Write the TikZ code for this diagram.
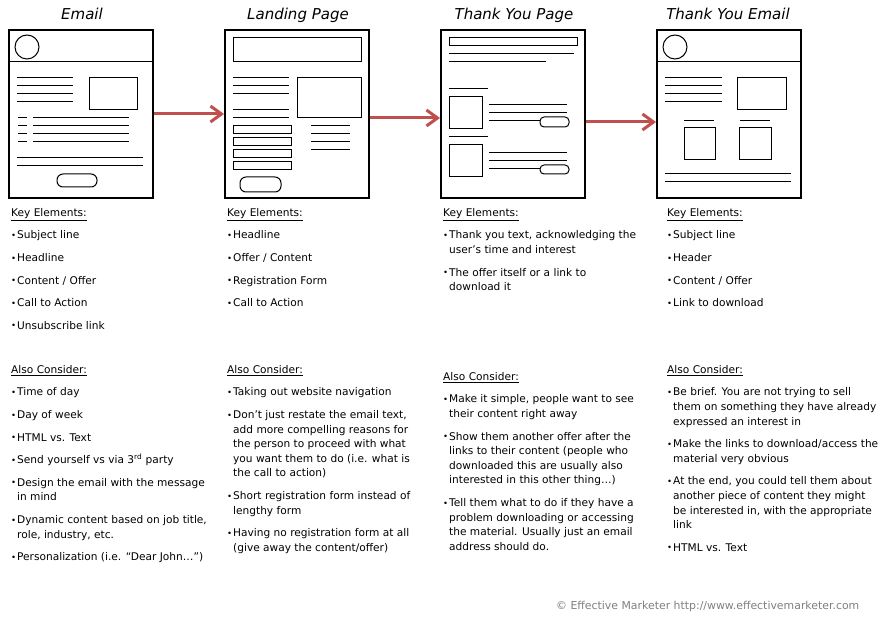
\documentclass[tikz,border=0pt]{standalone}
\usepackage{fontspec}
\setmainfont{DejaVu Sans}
\usepackage{xcolor}
\usepackage{tikz}
\usetikzlibrary{arrows.meta, positioning, calc}
\definecolor{flowred}{HTML}{C0504D}
\definecolor{footgray}{HTML}{808080}
\tikzstyle{page}   = [rectangle, draw, line width=2pt, minimum width=144pt,
                      minimum height=168pt, inner sep=0pt]
\tikzstyle{title}  = [font=\fontsize{15pt}{16pt}\selectfont\itshape,
                      anchor=base, inner sep=0pt]
\tikzstyle{notes}  = [font=\fontsize{10.6pt}{14.6pt}\selectfont, align=left,
                      anchor=north west, inner sep=0pt]
\tikzstyle{footer} = [font=\fontsize{10.9pt}{12pt}\selectfont, text=footgray,
                      anchor=base west, inner sep=0pt]
\tikzstyle{wire}   = [line width=1pt]
\tikzstyle{arrow}  = [-{Straight Barb[length=11pt, width=16pt]}, line width=3pt,
                      draw=flowred]
\newcommand{\bul}{\makebox[6pt][l]{\raisebox{0.3pt}{\fontsize{8.5pt}{8.5pt}\selectfont\textbullet}}}
\newcommand{\ind}{\hspace*{6pt}}
\newcommand{\head}[1]{\underline{#1}}

\begin{document}
\begin{tikzpicture}[x=1pt, y=-1pt]
  \fill[white] (0,0) rectangle (891,620);
  \useasboundingbox (0,0) rectangle (891,620);

  % Pages
  \node[page] (email) at (81,114) {};
  \node[page] (landing) at (297,114) {};
  \node[page] (thanks) at (513,114) {};
  \node[page] (thanksmail) at (729,114) {};

  % Titles
  \node[title] (emailT) at ([xshift=1pt, yshift=9pt]email.north) {Email};
  \node[title] (landingT) at ([xshift=1pt, yshift=9pt]landing.north) {Landing Page};
  \node[title] (thanksT) at ([xshift=1pt, yshift=9pt]thanks.north) {Thank You Page};
  \node[title] (thanksmailT) at ([xshift=-1pt, yshift=9pt]thanksmail.north) {Thank You Email};

  % Email wireframe
  \draw[wire] (9,62) -- (153,62);
  \draw[wire] (27,47) circle (12);
  \draw[wire] (17,78) -- (73,78) (17,86) -- (73,86) (17,94) -- (73,94) (17,102) -- (73,102);
  \draw[wire] (89,78) rectangle (137,110);
  \draw[wire] (18,118) -- (27,118) (18,126) -- (27,126) (18,134) -- (27,134) (18,142) -- (27,142);
  \draw[wire] (33,118) -- (129,118) (33,126) -- (129,126) (33,134) -- (129,134) (33,142) -- (129,142);
  \draw[wire] (17,158) -- (143,158) (17,166) -- (143,166);
  \draw[wire, rounded corners=6pt] (57,174) rectangle (97,187);

  % Landing page wireframe
  \draw[wire] (233,38) rectangle (361,62);
  \draw[wire] (233,78) -- (289,78) (233,86) -- (289,86) (233,94) -- (289,94) (233,110) -- (289,110) (233,118) -- (289,118);
  \draw[wire] (297,78) rectangle (361,118);
  \draw[wire] (233,126) rectangle (291,134) (233,138) rectangle (291,146) (233,150) rectangle (291,158) (233,162) rectangle (291,170);
  \draw[wire] (311,126) -- (350,126) (311,134) -- (350,134) (311,142) -- (350,142) (311,150) -- (350,150);
  \draw[wire, rounded corners=6pt] (240,177) rectangle (281,192);

  % Thank you page wireframe
  \draw[wire] (449,38) rectangle (577,46);
  \draw[wire] (449,54) -- (574,54) (449,62) -- (546,62);
  \draw[wire] (449,89) -- (488,89) (449,137) -- (488,137);
  \draw[wire] (449,97) rectangle (482,129) (449,145) rectangle (482,177);
  \draw[wire] (489,105) -- (567,105) (489,113) -- (567,113) (489,121) -- (540,121);
  \draw[wire] (489,153) -- (567,153) (489,161) -- (567,161) (489,169) -- (540,169);
  \draw[wire, rounded corners=4pt] (540,117) rectangle (569,127);
  \draw[wire, rounded corners=4pt] (540,165) rectangle (569,174);

  % Thank you email wireframe
  \draw[wire] (657,62) -- (801,62);
  \draw[wire] (675,47) circle (12);
  \draw[wire] (665,78) -- (722,78) (665,86) -- (722,86) (665,94) -- (722,94) (665,102) -- (722,102);
  \draw[wire] (737,78) rectangle (786,110);
  \draw[wire] (684,121) -- (714,121) (740,121) -- (770,121);
  \draw[wire] (684,128) rectangle (715,160) (739,128) rectangle (771,160);
  \draw[wire] (665,174) -- (791,174) (665,182) -- (791,182);

  % Flow arrows
  \draw[arrow] (email.east) -- (landing.west);
  \draw[arrow] ([yshift=-4pt]landing.east) -- ([yshift=-4pt]thanks.west);
  \draw[arrow] ([yshift=-8pt]thanks.east) -- ([yshift=-8pt]thanksmail.west);

  % Key elements
  \node[notes] (keyEmail) at (11,208) {\head{Key Elements:}\\[8pt]
    \bul Subject line\\[8pt]
    \bul Headline\\[8pt]
    \bul Content / Offer\\[8pt]
    \bul Call to Action\\[8pt]
    \bul Unsubscribe link};
  \node[notes] (keyLanding) at (227,208) {\head{Key Elements:}\\[8pt]
    \bul Headline\\[8pt]
    \bul Offer / Content\\[8pt]
    \bul Registration Form\\[8pt]
    \bul Call to Action};
  \node[notes] (keyThanks) at (443,208) {\head{Key Elements:}\\[8pt]
    \bul Thank you text, acknowledging the\\
    \ind user’s time and interest\\[8pt]
    \bul The offer itself or a link to\\
    \ind download it};
  \node[notes] (keyThanksmail) at (667,208) {\head{Key Elements:}\\[8pt]
    \bul Subject line\\[8pt]
    \bul Header\\[8pt]
    \bul Content / Offer\\[8pt]
    \bul Link to download};

  % Also consider
  \node[notes] (alsoEmail) at (11,365) {\head{Also Consider:}\\[8pt]
    \bul Time of day\\[8pt]
    \bul Day of week\\[8pt]
    \bul HTML vs. Text\\[8pt]
    \bul Send yourself vs via 3\textsuperscript{rd} party\\[8pt]
    \bul Design the email with the message\\
    \ind in mind\\[8pt]
    \bul Dynamic content based on job title,\\
    \ind role, industry, etc.\\[8pt]
    \bul Personalization (i.e. “Dear John…”)};
  \node[notes] (alsoLanding) at (227,365) {\head{Also Consider:}\\[8pt]
    \bul Taking out website navigation\\[8pt]
    \bul Don’t just restate the email text,\\
    \ind add more compelling reasons for\\
    \ind the person to proceed with what\\
    \ind you want them to do (i.e. what is\\
    \ind the call to action)\\[8pt]
    \bul Short registration form instead of\\
    \ind lengthy form\\[8pt]
    \bul Having no registration form at all\\
    \ind (give away the content/offer)};
  \node[notes] (alsoThanks) at (443,372) {\head{Also Consider:}\\[8pt]
    \bul Make it simple, people want to see\\
    \ind their content right away\\[8pt]
    \bul Show them another offer after the\\
    \ind links to their content (people who\\
    \ind downloaded this are usually also\\
    \ind interested in this other thing…)\\[8pt]
    \bul Tell them what to do if they have a\\
    \ind problem downloading or accessing\\
    \ind the material. Usually just an email\\
    \ind address should do.};
  \node[notes] (alsoThanksmail) at (667,365) {\head{Also Consider:}\\[8pt]
    \bul Be brief. You are not trying to sell\\
    \ind them on something they have already\\
    \ind expressed an interest in\\[8pt]
    \bul Make the links to download/access the\\
    \ind material very obvious\\[8pt]
    \bul At the end, you could tell them about\\
    \ind another piece of content they might\\
    \ind be interested in, with the appropriate\\
    \ind link\\[8pt]
    \bul HTML vs. Text};

  % Footer
  \node[footer] (credit) at (556,609) {© Effective Marketer http://www.effectivemarketer.com};
\end{tikzpicture}
\end{document}
